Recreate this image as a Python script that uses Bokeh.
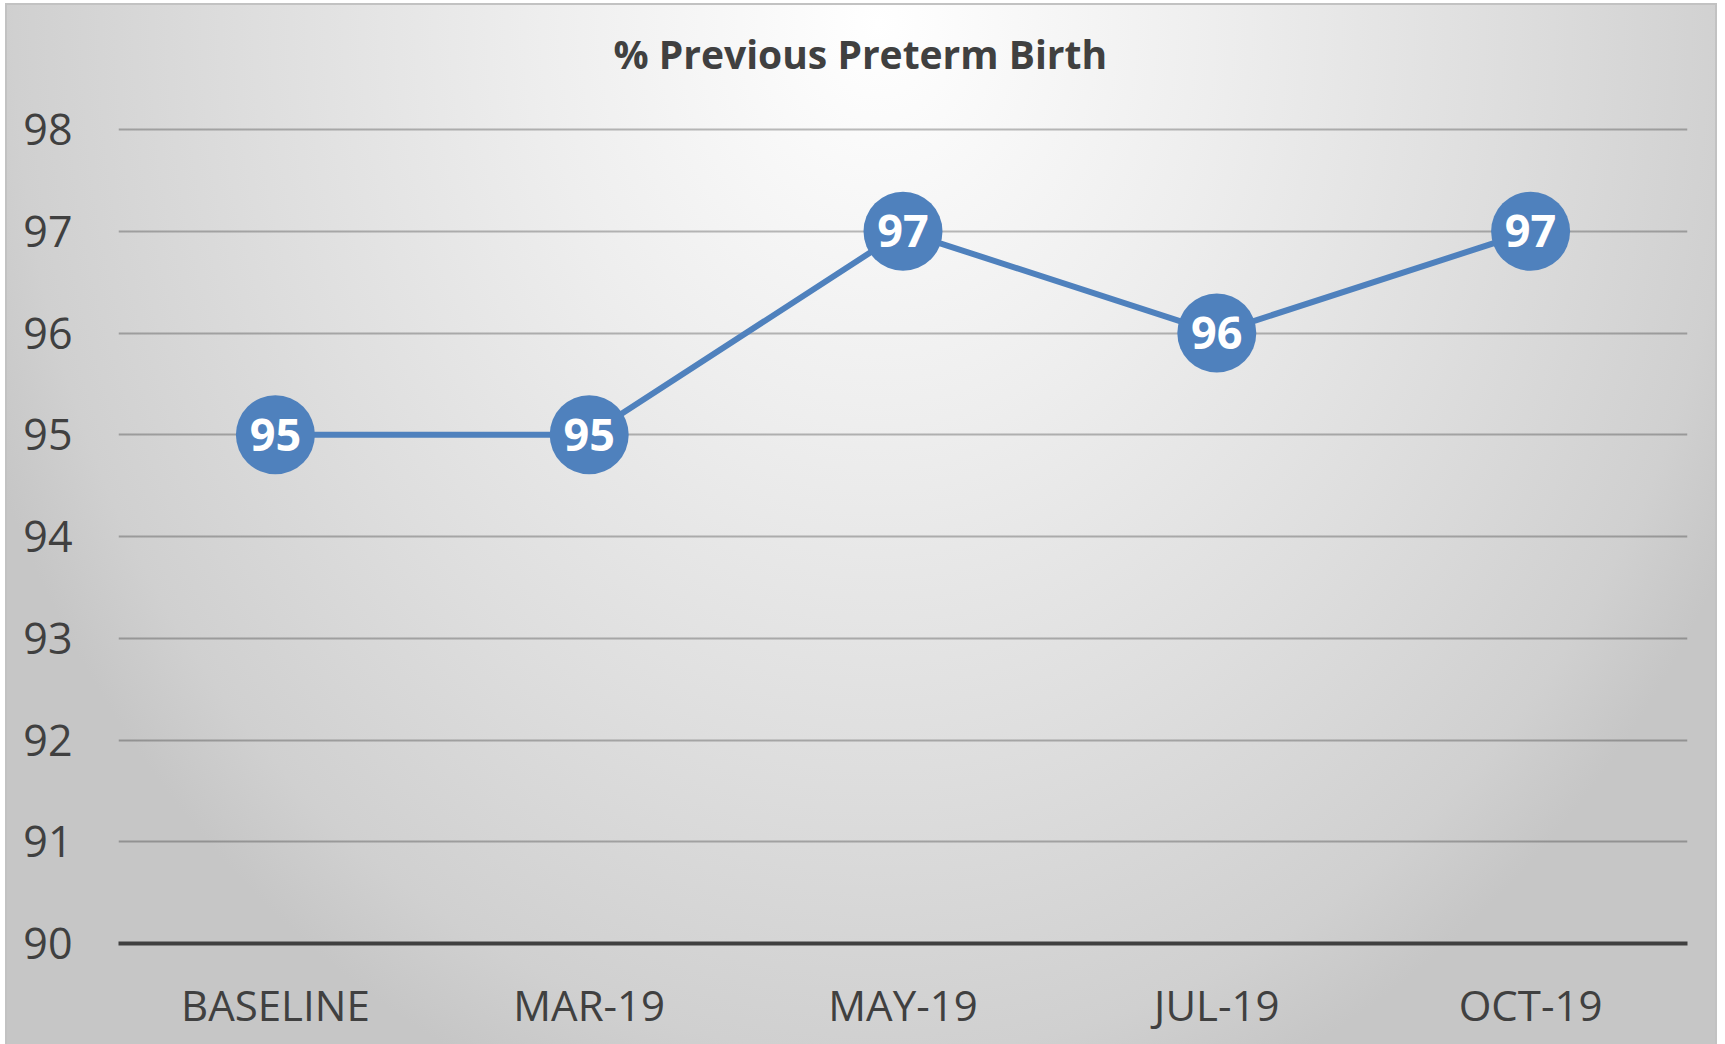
from bokeh.plotting import figure
from bokeh.models import ColumnDataSource, Range1d, FactorRange, Title, FixedTicker, InlineStyleSheet
from bokeh.core.properties import value
from bokeh.embed import file_html
from bokeh.resources import INLINE

# ---- data ----
categories = ["BASELINE", "MAR-19", "MAY-19", "JUL-19", "OCT-19"]
values = [95, 95, 97, 96, 97]
y_ticks = [90, 91, 92, 93, 94, 95, 96, 97, 98]
title_text = "% Previous Preterm Birth"

FONT = "Open Sans"
TEXT_COLOR = "#404040"
BLUE = "#4f81bd"

W, H = 1725, 1044
p = figure(width=W, height=H,
           x_range=FactorRange(factors=categories, range_padding=0),
           y_range=Range1d(90, 98.02),
           output_backend="svg", toolbar_location=None,
           min_border_left=118, min_border_right=38,
           min_border_top=127, min_border_bottom=101)

p.background_fill_color = None
p.border_fill_color = None
p.outline_line_color = None
p.stylesheets = [InlineStyleSheet(css=""":host {
  background:
    linear-gradient(#c2c2c2, #c2c2c2) 5px 3px / 1712px 2px no-repeat,
    linear-gradient(#c2c2c2, #c2c2c2) 5px 3px / 2px 1041px no-repeat,
    linear-gradient(#c2c2c2, #c2c2c2) 1715px 3px / 2px 1041px no-repeat,
    radial-gradient(ellipse 56% 110% at 51% 2%, #ffffff 0%, #eeeeee 35%, #dedede 65%, #d0d0d0 90%, #c6c6c6 100%) 5px 3px / 1712px 1041px no-repeat,
    #ffffff;
}""")]

# spacer between title and plot frame (closest panel to the frame)
p.add_layout(Title(text=" ", text_font_size="2px", standoff=38), "above")

# title (outermost)
p.title.text = title_text
p.title.align = "left"
p.title.offset = 495
p.title.vertical_align = "middle"
p.title.standoff = 10
p.title.text_font = FONT
p.title.text_font_style = "bold"
p.title.text_font_size = "39px"
p.title.text_color = TEXT_COLOR

# grid
p.xgrid.grid_line_color = None
p.ygrid.ticker = FixedTicker(ticks=y_ticks)
p.ygrid.grid_line_color = "#000000"
p.ygrid.grid_line_alpha = 0.26
p.ygrid.grid_line_width = 2

# y axis
p.yaxis.ticker = FixedTicker(ticks=y_ticks)
p.yaxis.axis_line_color = None
p.yaxis.major_tick_line_color = None
p.yaxis.minor_tick_line_color = None
p.yaxis.major_tick_in = 0
p.yaxis.major_tick_out = 0
p.yaxis.major_label_standoff = 46
p.yaxis.major_label_text_font = FONT
p.yaxis.major_label_text_font_size = "43px"
p.yaxis.major_label_text_color = TEXT_COLOR

# x axis
p.xaxis.axis_line_color = TEXT_COLOR
p.xaxis.axis_line_width = 4
p.xaxis.major_tick_line_color = None
p.xaxis.minor_tick_line_color = None
p.xaxis.major_tick_in = 0
p.xaxis.major_tick_out = 0
p.xaxis.major_label_standoff = 32
p.xaxis.major_label_text_font = FONT
p.xaxis.major_label_text_font_size = "42px"
p.xaxis.major_label_text_color = TEXT_COLOR

src = ColumnDataSource(dict(x=categories, y=values, lab=[str(v) for v in values]))

p.line("x", "y", source=src, line_color=BLUE, line_width=6)
p.scatter("x", "y", source=src, size=79, fill_color=BLUE, line_color=None)
p.text("x", "y", text="lab", source=src, text_color="white",
       text_font=value(FONT), text_font_style="bold", text_font_size="45px",
       text_align="center", text_baseline="middle")

open("out.html", "w").write(file_html(p, INLINE))
